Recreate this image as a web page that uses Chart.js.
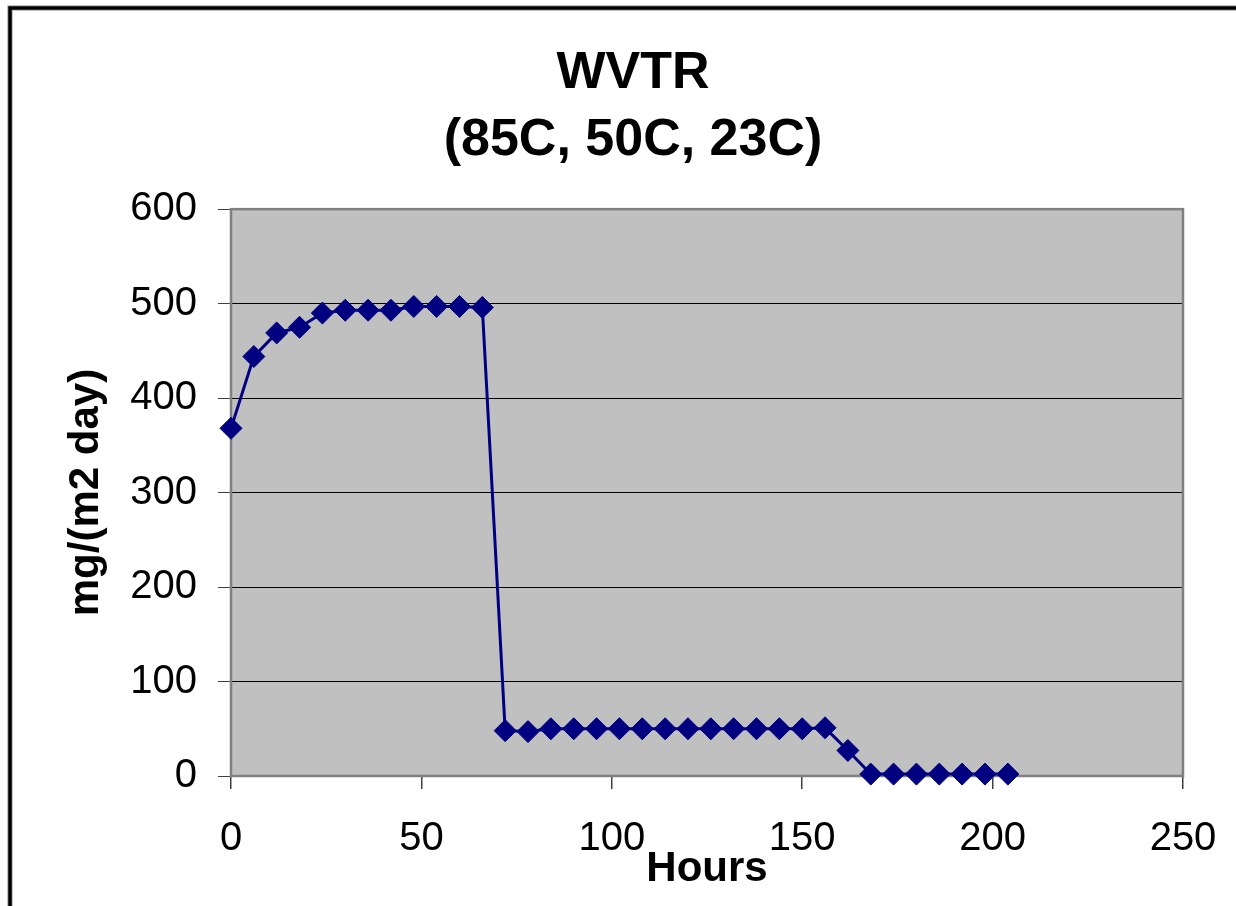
<!DOCTYPE html>
<html>
<head>
<meta charset="utf-8">
<script src="https://cdn.jsdelivr.net/npm/chart.js@4/dist/chart.umd.min.js"></script>
<style>
  html, body { margin: 0; padding: 0; background: #ffffff; overflow: hidden; }
  #wrap { position: absolute; left: 0; top: 0; width: 1266px; height: 906px; }
</style>
</head>
<body>
<div id="wrap"><canvas id="c" width="1266" height="906"></canvas></div>
<script>
// ---- data ----
const hours = [0, 6, 12, 18, 24, 30, 36, 42, 48, 54, 60, 66,
               72, 78, 84, 90, 96, 102, 108, 114, 120, 126, 132, 138, 144, 150, 156,
               162, 168, 174, 180, 186, 192, 198, 204];
const wvtr = [368, 444, 469, 475, 490, 493, 493, 493, 497, 497, 497, 496,
              48, 47, 50, 50, 50, 50, 50, 50, 50, 50, 50, 50, 50, 50, 51,
              27, 2, 2, 2, 2, 2, 2, 2];
const titleLines = ['WVTR', '(85C, 50C, 23C)'];
const xTitle = 'Hours';
const yTitle = 'mg/(m2 day)';
const xTicks = [0, 50, 100, 150, 200, 250];
const yTicks = [0, 100, 200, 300, 400, 500, 600];

const points = hours.map((h, i) => ({ x: h, y: wvtr[i] }));

const plotStyle = {
  id: 'plotStyle',
  beforeDraw(chart) {
    const ctx = chart.ctx;
    ctx.save();
    ctx.fillStyle = '#ffffff';
    ctx.fillRect(0, 0, chart.width, chart.height);
    ctx.strokeStyle = '#b0b0b0';
    ctx.lineWidth = 5.5;
    ctx.strokeRect(10, 8, chart.width + 40, chart.height + 40);
    ctx.strokeStyle = '#000000';
    ctx.lineWidth = 3.5;
    ctx.strokeRect(10, 8, chart.width + 40, chart.height + 40);
    const a = chart.chartArea;
    ctx.fillStyle = '#c0c0c0';
    ctx.fillRect(a.left, a.top, a.right - a.left, a.bottom - a.top);
    ctx.restore();
  },
  beforeDatasetsDraw(chart) {
    const ctx = chart.ctx;
    const a = chart.chartArea;
    ctx.save();
    ctx.strokeStyle = '#808080';
    ctx.lineWidth = 2.5;
    ctx.strokeRect(a.left, a.top, a.right - a.left, a.bottom - a.top);
    ctx.restore();
  }
};

new Chart(document.getElementById('c'), {
  type: 'scatter',
  data: {
    datasets: [{
      data: points,
      showLine: true,
      clip: false,
      borderColor: '#000080',
      backgroundColor: '#000080',
      borderWidth: 3,
      pointStyle: 'rectRot',
      pointRadius: 11,
      pointBorderWidth: 1,
      pointBorderColor: '#000080',
      pointBackgroundColor: '#000080',
      tension: 0
    }]
  },
  options: {
    responsive: false,
    animation: false,
    devicePixelRatio: 1,
    layout: { padding: { left: 83, right: 83, top: 0, bottom: 0 } },
    plugins: {
      legend: { display: false },
      tooltip: { enabled: false },
      title: {
        display: true,
        text: titleLines,
        color: '#000000',
        font: { family: 'Liberation Sans, Arial, sans-serif', size: 52, weight: 'bold', lineHeight: 1.29 },
        padding: { top: 40, bottom: 35 }
      }
    },
    scales: {
      x: {
        type: 'linear',
        min: 0,
        max: 250,
        afterBuildTicks(scale) { scale.ticks = xTicks.map(v => ({ value: v })); },
        afterFit(scale) { scale.height = 130; },
        border: { display: false },
        grid: {
          drawOnChartArea: false,
          drawTicks: true,
          tickLength: 13,
          tickColor: '#404040',
          lineWidth: 1.5
        },
        ticks: {
          color: '#000000',
          padding: 26,
          maxRotation: 0,
          autoSkip: false,
          font: { family: 'Liberation Sans, Arial, sans-serif', size: 40 }
        },
        title: {
          display: true,
          text: xTitle,
          color: '#000000',
          font: { family: 'Liberation Sans, Arial, sans-serif', size: 42, weight: 'bold', lineHeight: 1.2 },
          padding: { top: 0, bottom: 11 }
        }
      },
      y: {
        type: 'linear',
        min: 0,
        max: 600,
        afterBuildTicks(scale) { scale.ticks = yTicks.map(v => ({ value: v })); },
        afterFit(scale) { scale.width = 148; },
        border: { display: false },
        grid: {
          color: (ctx) => (ctx.tick && (ctx.tick.value === 0 || ctx.tick.value === 600)) ? 'rgba(0,0,0,0)' : '#000000',
          lineWidth: 1,
          drawTicks: true,
          tickLength: 13,
          tickColor: '#404040'
        },
        ticks: {
          color: '#000000',
          padding: 21,
          autoSkip: false,
          font: { family: 'Liberation Sans, Arial, sans-serif', size: 40 }
        },
        title: {
          display: true,
          text: yTitle,
          color: '#000000',
          font: { family: 'Liberation Sans, Arial, sans-serif', size: 42, weight: 'bold', lineHeight: 1.2 },
          padding: { top: -22, bottom: 0 }
        }
      }
    }
  },
  plugins: [plotStyle]
});
</script>
</body>
</html>
